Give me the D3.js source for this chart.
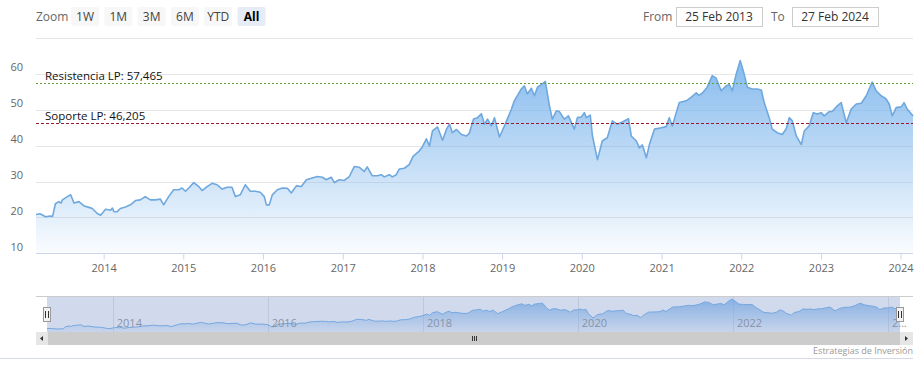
<!DOCTYPE html>
<html>
<head>
<meta charset="utf-8">
<script src="https://cdn.jsdelivr.net/npm/d3@7"></script>
<style>
  body { margin: 0; background: #fff; }
  svg { display: block; font-family: "Open Sans", "DejaVu Sans", sans-serif; }
</style>
</head>
<body>
<div id="chart"></div>
<script>
// weekly-ish closes
const dates = [
  '2013-02-25','2013-03-15','2013-04-10','2013-05-01','2013-05-12','2013-05-25','2013-06-10','2013-06-20','2013-06-26',
  '2013-07-19','2013-08-03','2013-08-18','2013-09-10','2013-10-03','2013-10-26','2013-11-10','2013-12-03','2013-12-18',
  '2014-01-10','2014-02-02','2014-02-10','2014-02-17','2014-03-04','2014-03-19','2014-04-11','2014-05-04','2014-05-27',
  '2014-06-18','2014-07-11','2014-08-03','2014-08-26','2014-09-18','2014-10-03','2014-10-26','2014-11-18','2014-12-11',
  '2014-12-26','2015-01-11','2015-01-26','2015-02-18','2015-03-13','2015-03-28','2015-04-20','2015-05-13','2015-06-05',
  '2015-06-28','2015-07-21','2015-08-12','2015-08-28','2015-09-19','2015-10-12','2015-11-04','2015-11-27','2015-12-20',
  '2016-01-07','2016-01-17','2016-01-30','2016-02-13','2016-03-07','2016-03-30','2016-04-22','2016-05-10','2016-06-02',
  '2016-06-25','2016-07-18','2016-08-14','2016-09-06','2016-09-29','2016-10-17','2016-11-09','2016-11-23','2016-12-16',
  '2017-01-08','2017-01-31','2017-02-23','2017-03-17','2017-04-09','2017-04-23','2017-05-16','2017-06-08','2017-06-26',
  '2017-07-10','2017-08-02','2017-08-16','2017-09-03','2017-09-17','2017-10-10','2017-11-01','2017-11-20','2017-12-17',
  '2018-01-01','2018-01-19','2018-02-02','2018-02-16','2018-03-11','2018-04-03','2018-04-21','2018-05-05','2018-05-18',
  '2018-06-06','2018-06-29','2018-07-22','2018-08-04','2018-08-23','2018-09-10','2018-09-28','2018-10-12','2018-10-26',
  '2018-11-13','2018-11-27','2018-12-20','2019-01-12','2019-02-13','2019-02-26','2019-03-30','2019-04-13','2019-04-27',
  '2019-05-15','2019-05-29','2019-06-12','2019-07-05','2019-07-18','2019-08-06','2019-08-19','2019-09-07','2019-09-20',
  '2019-10-13','2019-11-01','2019-11-28','2019-12-12','2019-12-30','2020-01-13','2020-01-22','2020-02-09','2020-02-19',
  '2020-03-13','2020-04-04','2020-04-27','2020-05-20','2020-06-12','2020-07-05','2020-08-02','2020-08-15','2020-09-07',
  '2020-09-21','2020-10-05','2020-10-23','2020-11-06','2020-11-29','2020-12-31','2021-01-22','2021-02-05','2021-02-19',
  '2021-03-09','2021-03-23','2021-04-24','2021-05-17','2021-06-09','2021-06-20','2021-07-06','2021-07-29','2021-08-21',
  '2021-09-08','2021-10-01','2021-10-24','2021-11-07','2021-11-21','2021-12-09','2021-12-27','2022-01-10','2022-01-29',
  '2022-02-20','2022-03-15','2022-04-03','2022-04-16','2022-05-09','2022-05-23','2022-06-15','2022-07-08','2022-07-26',
  '2022-08-09','2022-08-23','2022-09-10','2022-10-03','2022-10-17','2022-11-08','2022-11-27','2022-12-15','2023-01-02',
  '2023-01-16','2023-02-08','2023-02-22','2023-03-17','2023-04-04','2023-04-27','2023-05-20','2023-06-12','2023-07-05',
  '2023-07-28','2023-08-10','2023-08-24','2023-09-11','2023-10-04','2023-10-27','2023-11-10','2023-11-24','2023-12-12',
  '2024-01-04','2024-01-17','2024-01-31','2024-02-27'
];
const prices = [
  20.8,21.0,20.2,20.4,20.3,23.8,24.4,24.0,24.9,
  25.8,26.3,24.0,24.4,23.2,22.8,22.5,21.1,20.6,
  22.3,22.0,22.6,21.6,21.6,22.5,22.9,23.5,24.7,
  24.9,25.8,24.9,24.9,25.1,23.5,25.8,27.7,27.7,
  28.2,27.3,28.2,29.7,28.6,27.5,28.6,29.5,29.1,
  27.9,28.4,28.4,25.8,26.3,29.1,27.3,27.3,27.0,
  25.8,23.5,23.5,26.3,27.7,28.2,28.1,26.8,28.8,
  28.6,30.5,31.0,31.4,31.2,30.5,31.2,29.7,30.5,
  30.3,31.4,34.2,34.0,32.8,34.1,31.6,31.6,31.9,
  31.3,31.9,31.3,31.9,33.5,33.7,34.7,37.1,38.5,
  39.7,41.9,39.9,44.1,45.2,41.5,44.6,46.0,43.6,
  44.5,43.1,42.7,43.5,47.4,47.8,48.9,46.0,47.4,
  45.5,47.8,42.4,45.5,50.2,52.5,55.8,56.7,54.4,
  56.0,53.9,56.3,57.2,57.9,51.1,47.4,49.7,49.5,
  47.4,48.3,44.6,47.8,48.0,49.2,47.8,48.5,42.7,
  36.1,41.3,42.2,46.9,46.0,46.6,47.5,42.7,41.3,
  39.4,40.2,36.6,40.3,44.6,45.0,45.3,47.8,45.5,
  49.2,52.0,52.5,53.5,54.7,54.0,54.6,56.3,59.5,
  58.8,55.3,56.7,57.0,55.3,60.0,63.7,60.9,56.3,
  55.8,55.8,55.5,52.0,47.8,44.6,43.6,43.1,44.7,
  47.8,46.9,42.7,40.3,44.1,45.5,49.2,48.8,49.2,
  48.3,49.5,49.5,51.1,52.0,46.4,50.2,51.6,51.8,
  53.9,55.8,57.7,55.3,53.9,53.0,51.6,48.3,50.6,
  50.8,52.0,50.2,48.3
];
const yTicks = [10, 20, 30, 40, 50, 60, 70];
const navYears = [2014, 2016, 2018, 2020, 2022, 2024];
const zoomButtons = ['1W', '1M', '3M', '6M', 'YTD', 'All'];
const fromText = '25 Feb 2013';
const toText = '27 Feb 2024';
const levels = [
  { label: 'Resistencia LP: 57,465', value: 57.465, color: '#5e9e3c', dash: '2,2' },
  { label: 'Soporte LP: 46,205', value: 46.205, color: '#9a1a2e', dash: '3,2' }
];
const creditText = 'Estrategias de Inversión';

const W = 923, H = 373;
const parse = d3.timeParse('%Y-%m-%d');
const data = dates.map((d, i) => ({ date: parse(d), value: prices[i] }));
const ext = d3.extent(data, d => d.date);

const svg = d3.select('#chart').append('svg').attr('width', W).attr('height', H);
const defs = svg.append('defs');

const grad = (id, hi, lo) => {
  const g = defs.append('linearGradient').attr('id', id)
    .attr('x1', 0).attr('y1', 0).attr('x2', 0).attr('y2', 1);
  g.append('stop').attr('offset', 0).attr('stop-color', '#7cb5ec').attr('stop-opacity', hi);
  g.append('stop').attr('offset', 1).attr('stop-color', '#7cb5ec').attr('stop-opacity', lo);
};
grad('areaFill', 0.92, 0.04);
grad('navFill', 0.8, 0.1);

// ---- range selector
const header = svg.append('g').style('font-size', '12px');
header.append('text').attr('x', 36).attr('y', 21).attr('fill', '#666').text('Zoom');
const btn = header.selectAll('g.btn').data(zoomButtons).join('g')
  .attr('transform', (d, i) => `translate(${71 + i * 33.3},7)`);
btn.append('rect').attr('width', 28).attr('height', 19).attr('rx', 2)
  .attr('fill', d => d === 'All' ? '#e6ebf5' : '#f7f7f7');
btn.append('text').attr('x', 14).attr('y', 14).attr('text-anchor', 'middle')
  .attr('fill', d => d === 'All' ? '#000' : '#444')
  .style('font-weight', d => d === 'All' ? 'bold' : 'normal').text(d => d);

const inputs = [
  { lab: 'From', lx: 643, bx: 676, bw: 86, txt: fromText },
  { lab: 'To', lx: 771, bx: 792, bw: 86, txt: toText }
];
inputs.forEach(o => {
  header.append('text').attr('x', o.lx).attr('y', 21).attr('fill', '#666').text(o.lab);
  header.append('rect').attr('x', o.bx + 0.5).attr('y', 7.5).attr('width', o.bw).attr('height', 19)
    .attr('fill', '#fff').attr('stroke', '#cccccc');
  header.append('text').attr('x', o.bx + o.bw / 2).attr('y', 21).attr('text-anchor', 'middle')
    .attr('fill', '#333').text(o.txt);
});

// ---- main plot
const x = d3.scaleTime().domain(ext).range([36, 913]);
const y = d3.scaleLinear().domain([10, 70]).range([253.3, 38]);

svg.append('g').selectAll('line').data(yTicks).join('line')
  .attr('x1', 36).attr('x2', 913)
  .attr('y1', d => Math.round(y(d)) + 0.5).attr('y2', d => Math.round(y(d)) + 0.5)
  .attr('stroke', '#e6e6e6');

svg.append('g').style('font-size', '11px').selectAll('text').data(yTicks.slice(0, -1)).join('text')
  .attr('x', 23).attr('y', d => y(d) - 2.5).attr('text-anchor', 'end').attr('fill', '#666')
  .text(d => d);

const area = d3.area().x(d => x(d.date)).y0(y(10)).y1(d => y(d.value));
const line = d3.line().x(d => x(d.date)).y(d => y(d.value));
svg.append('path').datum(data).attr('d', area).attr('fill', 'url(#areaFill)');
svg.append('path').datum(data).attr('d', line).attr('fill', 'none')
  .attr('stroke', '#6fa8de').attr('stroke-width', 1.6).attr('stroke-linejoin', 'round');

// support / resistance
const lv = svg.append('g');
levels.forEach(l => {
  const yy = Math.round(y(l.value)) + 0.5;
  lv.append('line').attr('x1', 36).attr('x2', 913).attr('y1', yy).attr('y2', yy)
    .attr('stroke', l.color).attr('stroke-dasharray', l.dash);
  lv.append('text').attr('x', 45).attr('y', yy - 4).attr('fill', '#111')
    .style('font-size', '11.5px').text(l.label);
});

// x axis
const xAxis = svg.append('g').attr('transform', 'translate(0,253.5)')
  .call(d3.axisBottom(x).ticks(d3.timeYear.every(1)).tickSize(6).tickPadding(5)
    .tickFormat(d3.timeFormat('%Y')));
xAxis.select('.domain').attr('stroke', '#ccd6eb').attr('d', 'M36,0H913');
xAxis.selectAll('.tick line').attr('stroke', '#ccd6eb');
xAxis.selectAll('.tick text').attr('fill', '#666').style('font-size', '11px')
  .style('font-family', '"Open Sans", sans-serif');

// ---- navigator
const nx = d3.scaleTime().domain(ext).range([47, 900]);
const ny = d3.scaleLinear().domain(d3.extent(prices)).range([329, 299]);
const nav = svg.append('g');
nav.append('line').attr('x1', 36).attr('x2', 913).attr('y1', 296.5).attr('y2', 296.5).attr('stroke', '#cccccc');
nav.selectAll('line.g').data(navYears).join('line').attr('class', 'g')
  .attr('x1', d => Math.round(nx(new Date(d, 0, 1))) + 0.5).attr('x2', d => Math.round(nx(new Date(d, 0, 1))) + 0.5)
  .attr('y1', 297).attr('y2', 332).attr('stroke', '#e6e6e6');
nav.append('path').datum(data)
  .attr('d', d3.area().x(d => nx(d.date)).y0(332).y1(d => ny(d.value)))
  .attr('fill', 'url(#navFill)');
nav.append('path').datum(data)
  .attr('d', d3.line().x(d => nx(d.date)).y(d => ny(d.value)))
  .attr('fill', 'none').attr('stroke', '#7cb5ec').attr('stroke-width', 1);
nav.selectAll('text').data(navYears).join('text')
  .attr('x', d => nx(new Date(d, 0, 1)) + 4).attr('y', 327).attr('fill', '#999')
  .style('font-size', '11px')
  .text(d => d === 2024 ? '2…' : d);
nav.append('rect').attr('x', 47).attr('y', 297).attr('width', 853).attr('height', 35)
  .attr('fill', 'rgba(102,133,194,0.3)');
[47, 900].forEach(hx => {
  const h = nav.append('g').attr('transform', `translate(${hx},0)`);
  h.append('rect').attr('x', -3.5).attr('y', 307.5).attr('width', 7).attr('height', 14)
    .attr('fill', '#f2f2f2').attr('stroke', '#999');
  h.append('path').attr('d', 'M-1.5,311V318M1.5,311V318').attr('stroke', '#333').attr('stroke-width', 1);
});

// scrollbar
const sb = svg.append('g');
sb.append('rect').attr('x', 36).attr('y', 332).attr('width', 877).attr('height', 13).attr('fill', '#f2f2f2');
sb.append('rect').attr('x', 48).attr('y', 332).attr('width', 852).attr('height', 13).attr('fill', '#cccccc');
sb.append('rect').attr('x', 36).attr('y', 332).attr('width', 12).attr('height', 13).attr('fill', '#e6e6e6');
sb.append('rect').attr('x', 900).attr('y', 332).attr('width', 13).attr('height', 13).attr('fill', '#e6e6e6');
sb.append('path').attr('d', 'M43,336L40,338.5L43,341Z').attr('fill', '#333');
sb.append('path').attr('d', 'M905,336L908,338.5L905,341Z').attr('fill', '#333');
sb.append('path').attr('d', 'M472.5,336V341M474.5,336V341M476.5,336V341').attr('stroke', '#333');

// credits + bottom rule
svg.append('text').attr('x', 913).attr('y', 354).attr('text-anchor', 'end')
  .attr('fill', '#999').style('font-size', '9px').text(creditText);
svg.append('line').attr('x1', 0).attr('x2', 913).attr('y1', 358.5).attr('y2', 358.5).attr('stroke', '#d5d8e6');
</script>
</body>
</html>
